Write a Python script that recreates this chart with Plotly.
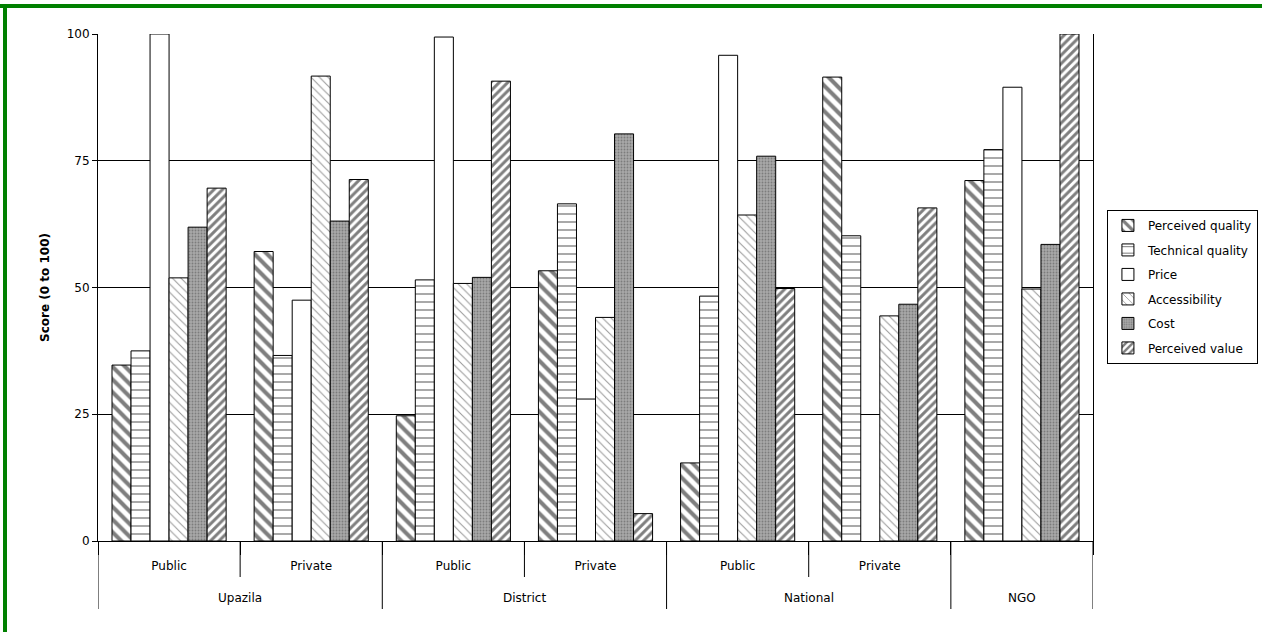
import plotly.graph_objects as go

# Provider groupings (outer level) and sector (inner level)
level = ["Upazila", "Upazila", "District", "District", "National", "National", "NGO"]
sector = ["Public", "Private", "Public", "Private", "Public", "Private", ""]

# Scores (0 to 100) per dimension
perceived_quality = [34.7, 57.1, 24.7, 53.3, 15.4, 91.5, 71.1]
technical_quality = [37.5, 36.6, 51.5, 66.5, 48.3, 60.2, 77.2]
price = [100.0, 47.5, 99.4, 28.0, 95.8, None, 89.5]
accessibility = [51.9, 91.7, 50.8, 44.1, 64.3, 44.4, 49.7]
cost = [61.9, 63.1, 52.0, 80.3, 75.9, 46.7, 58.5]
perceived_value = [69.6, 71.3, 90.7, 5.4, 49.8, 65.7, 100.0]

y_ticks = [0, 25, 50, 75, 100]

FONT = "DejaVu Sans, Arial, sans-serif"
PLOT_H = 507  # plot-area height in px, used to express pixel offsets in paper units

# one unique category key per column; the axis shows only the sector text
keys = [f"{lv} {sc}".strip() for lv, sc in zip(level, sector)]

series = [
    ("Perceived quality", perceived_quality,
     dict(shape="\\", fgcolor="black", bgcolor="white", size=9, solidity=0.45)),
    ("Technical quality", technical_quality,
     dict(shape="-", fgcolor="#303030", bgcolor="white", size=8, solidity=0.15, fgopacity=0.7)),
    ("Price", price,
     dict(shape="")),
    ("Accessibility", accessibility,
     dict(shape="\\", fgcolor="#707070", bgcolor="white", size=6, solidity=0.18, fgopacity=0.7)),
    ("Cost", cost,
     dict(shape=".", fgcolor="#505050", bgcolor="#a8a8a8", size=3, solidity=0.3)),
    ("Perceived value", perceived_value,
     dict(shape="/", fgcolor="black", bgcolor="white", size=6, solidity=0.5)),
]

fig = go.Figure()
for name, vals, pat in series:
    fig.add_trace(go.Bar(
        name=name,
        x=keys,
        y=vals,
        legendgroup=name,
        marker=dict(color="white", line=dict(color="black", width=1), pattern=pat),
    ))

fig.update_layout(
    width=1262, height=632,
    barmode="group", bargap=0.197, bargroupgap=0,
    paper_bgcolor="white", plot_bgcolor="white",
    margin=dict(l=98, r=169, t=34, b=91, autoexpand=False),
    font=dict(family=FONT, size=12, color="black"),
    showlegend=True,
    legend=dict(
        x=1.014, y=0.653, xanchor="left", yanchor="top",
        bgcolor="white", bordercolor="black", borderwidth=1,
        font=dict(family=FONT, size=12, color="black"),
        tracegroupgap=5.5, traceorder="grouped",
    ),
)

fig.update_yaxes(
    range=[0, 100], tickvals=y_ticks, ticks="outside", ticklen=5,
    tickcolor="black", showline=True, linecolor="black", linewidth=1,
    mirror=True, showgrid=True, gridcolor="black", gridwidth=1,
    zeroline=False, tickfont=dict(family=FONT, size=12),
    title=dict(text="<b>Score (0 to 100)</b>", font=dict(family=FONT, size=12), standoff=14),
)

fig.update_xaxes(
    type="category", categoryorder="array", categoryarray=keys,
    range=[-0.5, len(keys) - 0.5],
    tickvals=keys, ticktext=sector,
    showline=True, linecolor="black", linewidth=1,
    ticks="outside", tickson="boundaries", ticklen=13, tickcolor="black",
    ticklabelstandoff=14,
    tickfont=dict(family=FONT, size=12),
)

# Outer-level labels and the dividers between levels
groups = []
for i, lv in enumerate(level):
    if not groups or groups[-1][0] != lv:
        groups.append([lv, i, i])
    else:
        groups[-1][2] = i
for lv, first, last in groups:
    fig.add_annotation(x=(first + last) / 2, y=-57 / PLOT_H, xref="x", yref="paper",
                       text=lv, showarrow=False, yanchor="middle",
                       font=dict(family=FONT, size=12, color="black"))
    fig.add_shape(type="line", xref="x", yref="paper", x0=first - 0.5, x1=first - 0.5,
                  y0=0, y1=-68 / PLOT_H, line=dict(color="black", width=1))
    # separator between Public and Private inside a level
    for j in range(first, last):
        fig.add_shape(type="line", xref="x", yref="paper", x0=j + 0.5, x1=j + 0.5,
                      y0=0, y1=-36 / PLOT_H, line=dict(color="black", width=1))
fig.add_shape(type="line", xref="x", yref="paper", x0=len(keys) - 0.5, x1=len(keys) - 0.5,
              y0=0, y1=-68 / PLOT_H, line=dict(color="black", width=1))

# Green page frame along the top and left edges
fig.add_shape(type="line", xref="paper", yref="paper",
              x0=-93 / 995, x1=-93 / 995, y0=-91 / PLOT_H, y1=535 / PLOT_H,
              line=dict(color="#008000", width=4))
fig.add_shape(type="line", xref="paper", yref="paper",
              x0=-98 / 995, x1=1164 / 995, y0=535 / PLOT_H, y1=535 / PLOT_H,
              line=dict(color="#008000", width=4))

fig.write_html("out.html")
